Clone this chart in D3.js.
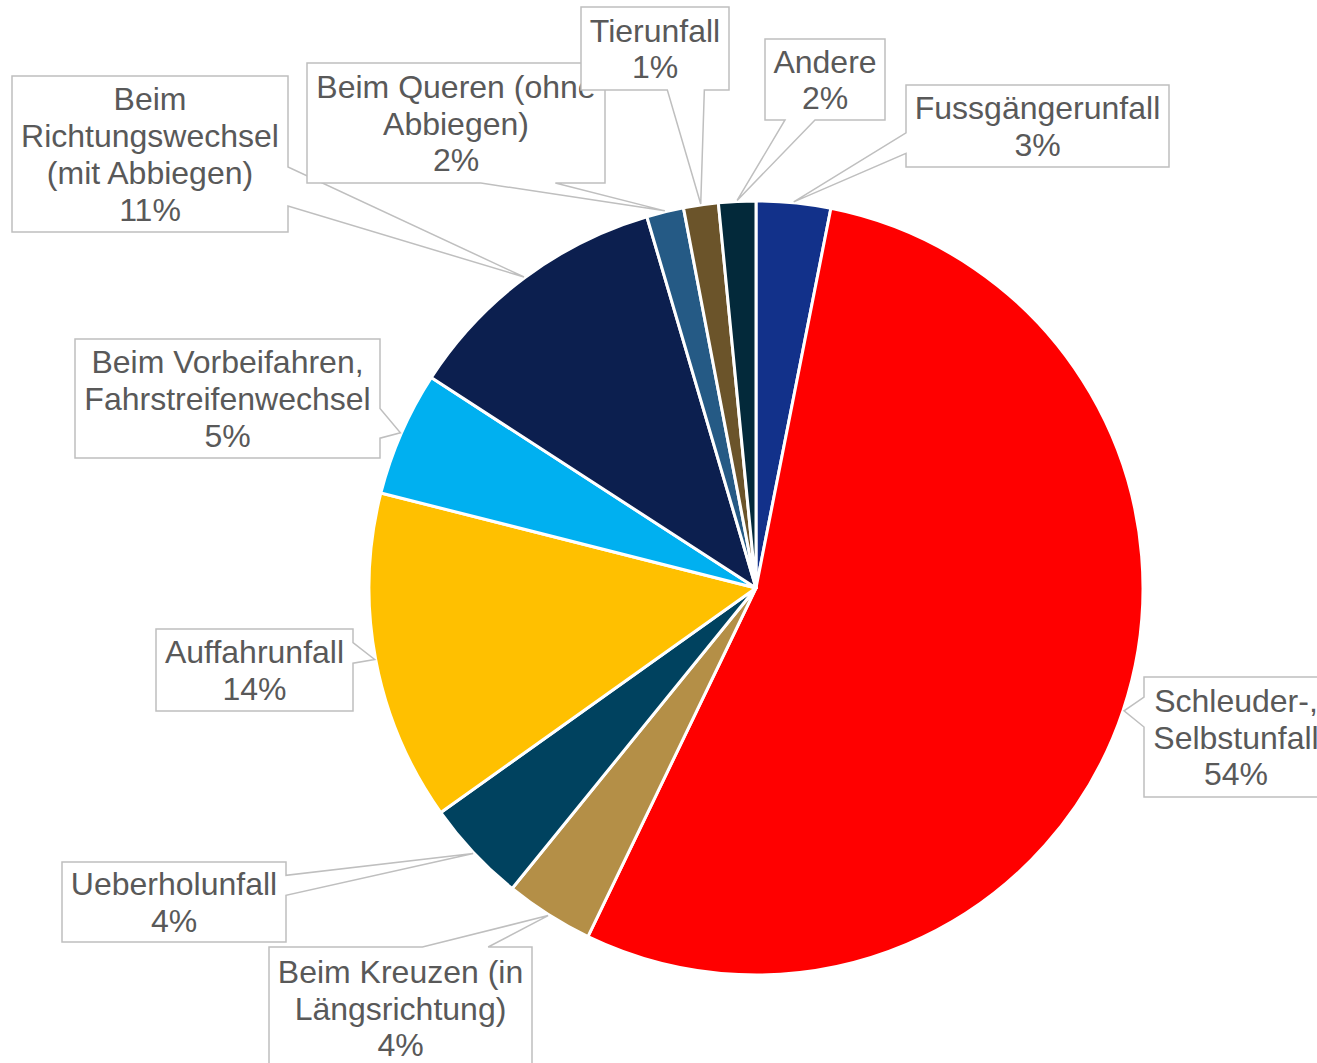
<!DOCTYPE html>
<html>
<head>
<meta charset="utf-8">
<script src="https://d3js.org/d3.v7.min.js"></script>
<style>
  body { margin: 0; background: #ffffff; }
  svg { display: block; }
</style>
</head>
<body>
<script>
// chart data, clockwise from the top of the pie
var categories = [
    ["Fussgängerunfall"],
    ["Schleuder-,", "Selbstunfall"],
    ["Beim Kreuzen (in", "Längsrichtung)"],
    ["Ueberholunfall"],
    ["Auffahrunfall"],
    ["Beim Vorbeifahren,", "Fahrstreifenwechsel"],
    ["Beim", "Richtungswechsel", "(mit Abbiegen)"],
    ["Beim Queren (ohne", "Abbiegen)"],
    ["Tierunfall"],
    ["Andere"]
];
var values = [3.1, 54.05, 3.7, 4.3, 13.8, 5.2, 11.3, 1.55, 1.45, 1.55];
var colors = ["#12318A", "#FF0000", "#B48F47", "#00425F", "#FFC000",
              "#00B0F0", "#0C1F4F", "#255A85", "#6B542A", "#03293A"];

// label boxes (layout only): x, y, width, height
var labelBoxes = [
    [906, 85, 263, 82],
    [1144, 677, 184, 120],
    [269, 947, 263, 122],
    [62, 862, 224, 80],
    [156, 629, 197, 82],
    [75, 339, 305, 119],
    [12, 76, 276, 156],
    [307, 63, 298, 120],
    [581, 7, 148, 83],
    [765, 39, 120, 81]
];

// canvas and pie size
var width = 1317;
var height = 1063;
var cx = 756;
var cy = 588;
var radius = 387;
var fontSize = 32;
var lineHeight = 36.8;

var svg = d3.select("body")
            .append("svg")
            .attr("width", width)
            .attr("height", height);

var total = d3.sum(values);
var pie = d3.pie().sort(null).value(function(d) { return d; });
var slices = pie(values);

var arc = d3.arc().innerRadius(0).outerRadius(radius);
var tipArc = d3.arc().innerRadius(radius + 1).outerRadius(radius + 1);

// draw slices
var pieGroup = svg.append("g")
    .attr("transform", "translate(" + cx + "," + cy + ")");

pieGroup.selectAll("path")
    .data(slices)
    .enter()
    .append("path")
    .attr("d", arc)
    .attr("fill", function(d, i) { return colors[i]; })
    .attr("stroke", "#ffffff")
    .attr("stroke-width", 3)
    .attr("stroke-linejoin", "round");

// callout shape like the office "wedgeRectCallout"
function calloutPath(box, tip) {
    var x = box[0], y = box[1], w = box[2], h = box[3];
    var dxPos = tip[0] - (x + w / 2);
    var dyPos = tip[1] - (y + h / 2);
    var horizontal = Math.abs(dxPos * h) > Math.abs(dyPos * w);
    var xa = x + w * (dxPos > 0 ? 7 : 2) / 12;
    var xb = x + w * (dxPos > 0 ? 10 : 5) / 12;
    var ya = y + h * (dyPos > 0 ? 7 : 2) / 12;
    var yb = y + h * (dyPos > 0 ? 10 : 5) / 12;
    var t = tip[0] + "," + tip[1];

    var p = "M" + x + "," + y;
    if (!horizontal && dyPos < 0) p += "L" + xa + "," + y + "L" + t + "L" + xb + "," + y;
    p += "L" + (x + w) + "," + y;
    if (horizontal && dxPos > 0) p += "L" + (x + w) + "," + ya + "L" + t + "L" + (x + w) + "," + yb;
    p += "L" + (x + w) + "," + (y + h);
    if (!horizontal && dyPos > 0) p += "L" + xb + "," + (y + h) + "L" + t + "L" + xa + "," + (y + h);
    p += "L" + x + "," + (y + h);
    if (horizontal && dxPos < 0) p += "L" + x + "," + yb + "L" + t + "L" + x + "," + ya;
    return p + "Z";
}

// draw labels in series order, later ones on top
var labels = svg.selectAll("g.label")
    .data(slices)
    .enter()
    .append("g")
    .attr("class", "label");

labels.append("path")
    .attr("d", function(d, i) {
        var c = tipArc.centroid(d);
        return calloutPath(labelBoxes[i], [cx + c[0], cy + c[1]]);
    })
    .attr("fill", "#ffffff")
    .attr("stroke", "#BFBFBF")
    .attr("stroke-width", 1.5);

labels.each(function(d, i) {
    var box = labelBoxes[i];
    var lines = categories[i].concat([Math.round(d.value / total * 100) + "%"]);
    var midX = box[0] + box[2] / 2;
    var startY = box[1] + box[3] / 2 - (lines.length - 1) * lineHeight / 2;
    var text = d3.select(this).append("text")
        .attr("text-anchor", "middle")
        .attr("font-family", "Arial, 'Liberation Sans', sans-serif")
        .attr("font-size", fontSize)
        .attr("fill", "#595959");
    lines.forEach(function(line, j) {
        text.append("tspan")
            .attr("x", midX)
            .attr("y", startY + j * lineHeight)
            .attr("dy", "0.36em")
            .text(line);
    });
});
</script>
</body>
</html>
